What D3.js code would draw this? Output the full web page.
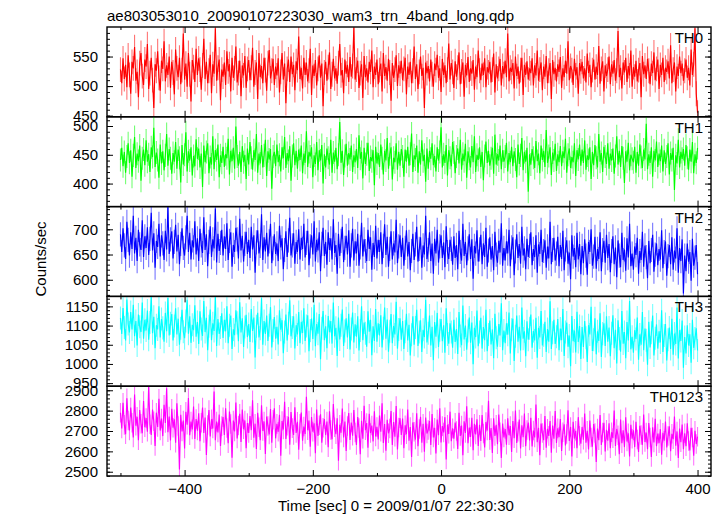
<!DOCTYPE html>
<html><head><meta charset="utf-8">
<script src="https://cdn.jsdelivr.net/npm/d3@7"></script>
<style>body{margin:0;background:#fff}svg{display:block}text{font-family:"Liberation Sans",Arial,Helvetica,sans-serif;}</style>
</head><body><svg id="c" width="724" height="516"></svg>
<script>
// Time bins (seconds): first bin at tStart, one value every binSize seconds
const tStart = -500, binSize = 2;

const th0 = [
528,505,547,512,536,498,552,519,487,541,530,566,509,524,481,539,556,517,502,545,
533,571,495,522,548,510,463,537,526,559,514,492,543,529,576,508,535,519,550,497,
541,523,486,562,530,515,548,503,527,589,511,538,499,556,520,474,544,532,507,563,
519,547,528,494,535,580,512,541,505,526,553,488,537,521,598,509,531,545,476,528,
516,540,502,559,525,537,491,548,514,530,567,506,522,543,483,535,518,551,497,529,
544,510,531,565,499,523,540,478,556,515,534,505,548,527,492,539,561,513,526,546,
502,533,518,547,489,524,556,511,538,471,529,545,507,550,520,536,493,542,527,584,
512,531,496,548,519,540,508,526,563,485,535,517,544,501,529,552,514,538,466,523,
541,509,532,557,495,520,546,513,530,504,539,571,518,527,488,545,521,536,507,549,
516,534,599,511,528,543,497,522,537,480,551,515,530,506,541,524,560,498,533,519,
545,503,527,538,491,556,517,532,509,546,523,475,539,514,528,552,500,535,521,543,
510,529,548,486,533,519,541,505,526,567,512,537,495,524,550,517,531,463,540,522,
534,508,545,520,499,538,527,553,514,530,490,546,519,535,505,528,572,511,539,524,
497,542,516,531,557,503,525,540,482,536,518,549,507,530,521,544,494,533,515,560,
526,510,538,519,547,498,532,523,541,506,528,555,489,537,513,529,546,501,534,520,
543,515,589,508,531,524,539,496,550,517,533,504,527,548,485,536,519,542,511,530,
522,547,501,535,518,560,509,528,540,493,533,516,551,505,526,539,478,544,520,531,
508,537,524,549,497,530,515,543,521,576,510,534,527,502,546,518,532,487,539,525,
541,513,530,506,555,522,536,498,527,545,511,533,519,568,504,529,542,491,535,517,
528,550,503,537,521,544,509,526,593,515,531,496,540,523,548,507,534,518,560,499,
532,516,543,508,527,539,481,551,520,535,512,546,526,503,538,522,557,510,529,545,
495,536,519,548,507,531,524,542,513,569,505,528,540,491,533,517,550,522,538,509,
526,545,514,531,501,562,519,537,598,487,455];

const th1 = [
441,462,430,455,419,447,470,436,458,412,449,481,427,452,439,466,405,444,459,432,
475,438,451,420,463,446,497,429,454,441,410,468,435,456,423,449,486,431,460,444,
417,453,438,472,426,459,445,402,467,433,450,489,421,456,440,463,414,448,430,477,
443,461,428,452,394,466,437,455,470,418,446,433,482,425,458,441,468,411,449,436,
464,429,451,444,478,416,457,439,462,426,499,447,431,455,420,465,437,450,408,461,
433,472,445,424,458,441,486,419,452,435,467,428,449,476,413,456,442,460,391,447,
455,430,468,437,450,421,463,444,481,427,453,439,465,405,448,470,432,457,426,459,
441,466,418,452,436,491,429,455,447,463,411,449,434,472,423,458,440,467,400,451,
428,461,445,433,476,419,454,438,462,425,450,507,436,457,415,448,469,431,453,442,
466,420,449,437,460,427,484,443,455,409,462,434,451,471,422,446,439,458,397,464,
435,453,429,468,444,416,457,440,479,426,451,463,407,445,437,470,424,455,431,460,
447,412,459,438,464,431,452,487,420,449,442,466,419,456,433,475,439,450,403,461,
426,457,443,470,432,448,421,463,440,455,498,428,451,436,467,414,458,445,430,472,
454,418,447,461,435,476,424,452,439,469,410,456,443,428,465,437,482,420,450,441,
463,429,455,406,448,473,436,457,431,444,462,417,485,433,451,440,466,425,458,438,
447,471,421,453,437,464,430,456,442,411,468,434,449,479,423,455,438,462,386,451,
433,460,445,427,474,439,452,418,466,441,457,429,493,436,448,463,415,454,440,469,
422,451,437,465,430,456,444,478,419,450,461,427,446,437,470,413,458,442,468,431,
459,436,475,424,449,441,463,408,455,432,467,445,428,486,438,453,420,464,447,434,
470,426,452,440,461,417,448,482,433,457,429,465,444,401,456,438,471,423,450,443,
437,464,419,455,431,468,446,427,459,442,504,425,451,436,463,412,457,440,473,429,
452,439,466,421,458,434,447,470,416,453,441,462,389,449,435,476,428,455,443,460,
431,467,445,424,459,438,472,418,451,436,462];

const th2 = [
690,655,702,668,641,715,679,648,694,661,727,652,683,637,699,670,659,718,645,686,
663,704,649,681,733,658,692,624,677,665,711,646,688,672,639,697,660,745,651,680,
696,642,675,709,656,689,631,671,702,663,648,684,727,655,693,640,678,664,716,650,
682,637,701,668,653,724,659,690,627,675,706,645,680,662,741,634,691,657,673,699,
648,686,661,712,639,677,694,626,669,655,703,680,642,721,658,687,636,671,695,651,
679,643,705,660,688,614,674,698,652,667,730,639,684,656,693,646,676,711,633,662,
690,651,672,637,707,664,682,621,659,696,645,678,723,648,668,692,632,675,655,700,
640,683,661,711,644,673,697,629,666,688,650,716,636,679,658,694,617,671,703,647,
675,630,694,659,682,640,720,653,669,612,691,647,677,705,635,663,687,650,698,626,
668,701,638,676,652,691,628,664,713,646,680,657,637,699,661,684,620,673,645,707,
642,679,655,694,631,667,710,649,685,626,661,696,640,672,654,719,633,666,688,645,
683,628,663,698,646,675,619,657,691,639,670,705,636,661,684,624,668,650,727,641,
659,694,637,672,612,681,652,699,634,666,688,643,674,625,706,655,641,679,661,630,
686,643,669,621,697,655,638,711,647,675,629,662,690,641,680,602,667,652,698,636,
660,689,631,672,645,703,626,658,684,640,667,619,695,650,634,677,654,712,628,663,
638,676,652,699,627,664,684,609,656,690,643,671,632,705,648,662,621,681,645,667,
694,629,661,645,688,614,670,651,699,635,657,678,624,666,642,715,631,659,683,638,
652,685,627,669,641,697,619,660,678,632,654,601,688,646,663,625,693,640,671,611,
667,633,680,648,610,675,655,700,628,646,685,622,661,641,694,617,659,677,634,689,
643,671,615,657,686,631,664,605,678,648,625,693,639,660,618,682,644,711,627,652,
620,666,649,683,612,657,639,695,626,668,645,603,677,633,659,689,616,650,672,629,
661,640,698,623,655,676,608,647,669,631,684,620,658,642,702,614,663,637,680,573,
648,617,672,636,655,598,681,628,644,669,611];

const th3 = [
1120,1078,1146,1095,1061,1168,1104,1082,1135,1090,1154,1072,1112,1048,1129,1097,1083,1160,1066,1115,
1087,1139,1063,1108,1175,1080,1123,1041,1101,1090,1150,1069,1117,1094,1058,1133,1085,1172,1074,1106,
1130,1061,1099,1145,1077,1118,1050,1093,1141,1084,1067,1112,1167,1079,1124,1055,1102,1088,1153,1071,
1109,1052,1137,1091,1073,1164,1083,1120,1036,1098,1142,1062,1106,1086,1176,1047,1117,1078,1095,1132,
1068,1115,1085,1150,1054,1101,1126,1039,1090,1075,1140,1107,1059,1161,1082,1119,1044,1096,1128,1070,
1104,1057,1143,1086,1121,1017,1098,1133,1069,1092,1171,1050,1112,1078,1126,1060,1101,1148,1043,1087,
1122,1066,1097,1051,1140,1089,1114,1028,1083,1129,1061,1106,1166,1072,1095,1124,1040,1101,1077,1135,
1054,1110,1081,1145,1060,1099,1127,1033,1087,1118,1065,1154,1046,1104,1079,1130,1012,1093,1138,1062,
1098,1041,1125,1083,1112,1053,1160,1072,1094,1021,1121,1064,1101,1142,1047,1086,1119,1069,1131,1038,
1091,1134,1056,1103,1071,1124,1035,1087,1150,1062,1108,1080,1045,1137,1084,1115,1023,1098,1060,1143,
1058,1106,1074,1127,1043,1093,1147,1066,1116,1032,1085,1130,1054,1099,1077,1162,1040,1090,1119,1063,
1112,1039,1084,1131,1061,1102,1022,1076,1124,1050,1095,1141,1047,1083,1114,1031,1089,1070,1167,1056,
1080,1126,1048,1097,1010,1109,1071,1133,1044,1088,1117,1059,1101,1029,1145,1077,1053,1106,1083,1042,
1115,1057,1091,1026,1135,1073,1049,1152,1064,1100,1037,1086,1121,1055,1108,999,1094,1070,1139,1046,
1083,1120,1040,1096,1062,1141,1033,1077,1113,1051,1090,1015,1131,1068,1045,1104,1074,1158,1036,1087,
1054,1106,1076,1134,1027,1089,1118,1008,1072,1126,1058,1097,1035,1147,1066,1085,1020,1111,1063,1093,
1129,1042,1086,1061,1120,1016,1094,1069,1138,1048,1075,1110,1031,1091,1058,1163,1039,1081,1115,1052,
1071,1117,1036,1092,1062,1143,1021,1083,1108,1045,1074,994,1125,1059,1087,1030,1136,1057,1099,1013,
1096,1044,1112,1068,1005,1101,1077,1149,1034,1063,1119,1025,1085,1060,1132,1018,1079,1106,1047,1124,
1058,1095,1020,1080,1127,1041,1089,1001,1114,1066,1032,1138,1053,1083,1015,1109,1061,1164,1038,1071,
1029,1088,1065,1121,1011,1077,1050,1135,1036,1092,1062,998,1110,1043,1081,1126,1022,1067,1103,1040,
1085,1056,1140,1031,1074,1104,1009,1063,1095,1039,1118,1024,1079,1052,1147,1014,1088,1060,1113,990,
1070,1027,1101,1048,1077,1003,1115,1042,1066,1093,1035];

const th0123 = [
2790,2712,2838,2730,2684,2861,2752,2703,2815,2741,2668,2879,2726,2770,2655,2803,2736,2689,2847,2719,
2764,2697,2921,2733,2681,2805,2748,2626,2790,2720,2858,2702,2761,2675,2829,2739,2910,2694,2771,2653,
2809,2716,2757,2642,2836,2725,2511,2780,2698,2751,2614,2794,2731,2862,2679,2746,2708,2820,2661,2759,
2702,2787,2650,2741,2815,2690,2766,2582,2729,2803,2673,2758,2712,2894,2655,2746,2693,2781,2627,2724,
2768,2681,2812,2715,2640,2796,2734,2569,2751,2698,2840,2663,2727,2784,2646,2805,2709,2752,2615,2739,
2690,2773,2704,2851,2667,2736,2612,2789,2718,2655,2826,2700,2747,2587,2771,2725,2683,2808,2642,2755,
2811,2664,2735,2696,2780,2578,2749,2707,2843,2661,2726,2770,2633,2793,2714,2681,2816,2690,2745,2608,
2736,2791,2652,2722,2685,2868,2704,2751,2623,2769,2697,2738,2591,2805,2676,2728,2782,2643,2716,2759,
2680,2746,2620,2797,2705,2659,2833,2718,2684,2762,2554,2731,2691,2810,2668,2747,2602,2725,2788,2656,
2742,2677,2803,2693,2631,2768,2715,2586,2750,2662,2824,2704,2739,2618,2785,2690,2727,2649,2797,2673,
2720,2658,2776,2697,2836,2641,2734,2603,2755,2689,2712,2798,2631,2744,2672,2823,2609,2717,2763,2680,
2761,2615,2728,2684,2805,2652,2719,2572,2742,2696,2658,2787,2625,2710,2770,2643,2735,2598,2766,2688,
2705,2749,2631,2783,2668,2716,2590,2756,2679,2811,2644,2724,2693,2768,2560,2731,2686,2795,2650,2713,
2662,2741,2700,2612,2789,2676,2727,2581,2748,2690,2822,2640,2717,2671,2765,2606,2735,2683,2758,2627,
2730,2651,2778,2688,2619,2744,2702,2849,2656,2715,2592,2763,2676,2730,2635,2781,2694,2568,2737,2668,
2710,2633,2762,2679,2724,2597,2749,2664,2801,2641,2697,2756,2614,2728,2670,2786,2625,2705,2741,2653,
2765,2624,2702,2668,2830,2645,2716,2581,2737,2690,2655,2774,2618,2711,2676,2749,2593,2727,2662,2798,
2641,2713,2670,2759,2602,2694,2733,2629,2685,2802,2651,2720,2575,2745,2663,2701,2616,2768,2677,2638,
2720,2657,2786,2642,2701,2609,2751,2668,2623,2734,2690,2548,2712,2655,2779,2631,2693,2740,2599,2706,
2652,2738,2615,2694,2665,2801,2627,2710,2679,2586,2756,2640,2703,2621,2767,2648,2689,2575,2730,2662,
2703,2621,2745,2658,2597,2726,2680,2632,2781,2646,2692,2610,2739,2668,2573,2718,2644,2760,2625,2687,
2640,2709,2584,2691,2652,2747,2619,2675,2723,2601,2686,2660,2771,2628,2698,2567,2712,2645,2732,2610,
2689,2625,2738,2651,2604,2716,2668,2579,2701,2636,2672];

const seriesNames  = ["TH0", "TH1", "TH2", "TH3", "TH0123"];
const seriesValues = [th0, th1, th2, th3, th0123];
const seriesColors = ["#ff0000", "#00ff00", "#0000ff", "#00ffff", "#ff00ff"];
const seriesErr    = [21, 20, 24, 30, 48];
const yDomains     = [[448, 600], [360, 516], [567, 745], [942, 1176], [2479, 2920]];
const yMajorTicks  = [[450, 500, 550], [400, 450, 500], [600, 650, 700],
                      [950, 1000, 1050, 1100, 1150], [2500, 2600, 2700, 2800, 2900]];
const yMinorStep   = [10, 10, 10, 10, 20];
const xDomain      = [-521, 421];
const xMajorTicks  = [-400, -200, 0, 200, 400];
const xMinorTicks  = [-500, -300, -100, 100, 300];
const titleText  = "ae803053010_20090107223030_wam3_trn_4band_long.qdp";
const xLabelText = "Time [sec] 0 = 2009/01/07 22:30:30";
const yLabelText = "Counts/sec";

const svg = d3.select("#c");
const L = 107, R = 711, T = 27, B = 476;
const nP = seriesNames.length;
const pH = (B - T) / nP;
const x = d3.scaleLinear().domain(xDomain).range([L, R]);
const FS = 15;

svg.append("rect").attr("width", 724).attr("height", 516).attr("fill", "#fff");

seriesNames.forEach((name, p) => {
  const top = T + p * pH, bot = top + pH;
  const y = d3.scaleLinear().domain(yDomains[p]).range([bot, top]);
  const vals = seriesValues[p];
  const err = seriesErr[p];
  const pts = vals.map((v, i) => [tStart + i * binSize, v]);

  const clipId = "clip" + p;
  svg.append("clipPath").attr("id", clipId)
    .append("rect").attr("x", L).attr("y", top).attr("width", R - L).attr("height", pH);
  const g = svg.append("g").attr("clip-path", `url(#${clipId})`);

  // error bars
  let eb = "";
  pts.forEach(([t, v]) => {
    const xx = x(t);
    eb += `M${xx},${y(v - err)}V${y(v + err)}`;
  });
  g.append("path").attr("d", eb).attr("stroke", seriesColors[p])
    .attr("stroke-opacity", 0.55).attr("stroke-width", 1.1).attr("fill", "none");

  // data line
  const line = d3.line().x(d => x(d[0])).y(d => y(d[1]));
  g.append("path").attr("d", line(pts)).attr("stroke", seriesColors[p])
    .attr("stroke-width", 1.15).attr("fill", "none");

  // y axes (left labelled, right unlabelled), inward ticks
  const minor = d3.range(Math.ceil(yDomains[p][0] / yMinorStep[p]) * yMinorStep[p], yDomains[p][1], yMinorStep[p]);
  const addAx = (axisFn, xpos, vals, size, labelled) => {
    const a = axisFn(y).tickValues(vals).tickSize(-size).tickPadding(9);
    if (!labelled) a.tickFormat("");
    else a.tickFormat(d3.format("d"));
    const ga = svg.append("g").attr("transform", `translate(${xpos},0)`).call(a);
    ga.select(".domain").remove();
    ga.selectAll("line").attr("stroke", "#000").attr("stroke-width", 1);
    ga.selectAll("text").attr("font-size", FS).attr("font-family", '"Liberation Sans",Arial,sans-serif').attr("fill", "#000");
  };
  addAx(d3.axisLeft, L, minor, 3, false);
  addAx(d3.axisLeft, L, yMajorTicks[p], 6, true);
  addAx(d3.axisRight, R, minor, 3, false);
  addAx(d3.axisRight, R, yMajorTicks[p], 6, false);

  // x ticks on top and bottom of each panel
  const addX = (axisFn, ypos, vals, size, labelled) => {
    const a = axisFn(x).tickValues(vals).tickSize(-size).tickPadding(7);
    if (!labelled) a.tickFormat("");
    const ga = svg.append("g").attr("transform", `translate(0,${ypos})`).call(a);
    ga.select(".domain").remove();
    ga.selectAll("line").attr("stroke", "#000").attr("stroke-width", 1);
    ga.selectAll("text").attr("font-size", FS).attr("font-family", '"Liberation Sans",Arial,sans-serif').attr("fill", "#000");
  };
  addX(d3.axisTop, top, xMajorTicks, 6, false);
  addX(d3.axisTop, top, xMinorTicks, 3, false);
  addX(d3.axisBottom, bot, xMajorTicks, 6, p === nP - 1);
  addX(d3.axisBottom, bot, xMinorTicks, 3, false);

  // panel frame
  svg.append("rect").attr("x", L).attr("y", top).attr("width", R - L).attr("height", pH)
    .attr("fill", "none").attr("stroke", "#000").attr("stroke-width", 1.4);

  // panel label
  svg.append("text").attr("x", 703).attr("y", top + 16).attr("text-anchor", "end")
    .attr("font-size", FS).attr("fill", "#000").text(name);
});

svg.append("text").attr("x", L).attr("y", 20.5).attr("font-size", FS).attr("fill", "#000").text(titleText);
svg.append("text").attr("x", 278).attr("y", 511).attr("font-size", FS).attr("fill", "#000").text(xLabelText);
svg.append("text").attr("transform", "translate(46,259) rotate(-90)").attr("text-anchor", "middle")
  .attr("font-size", FS).attr("fill", "#000").text(yLabelText);
</script>
</body></html>
